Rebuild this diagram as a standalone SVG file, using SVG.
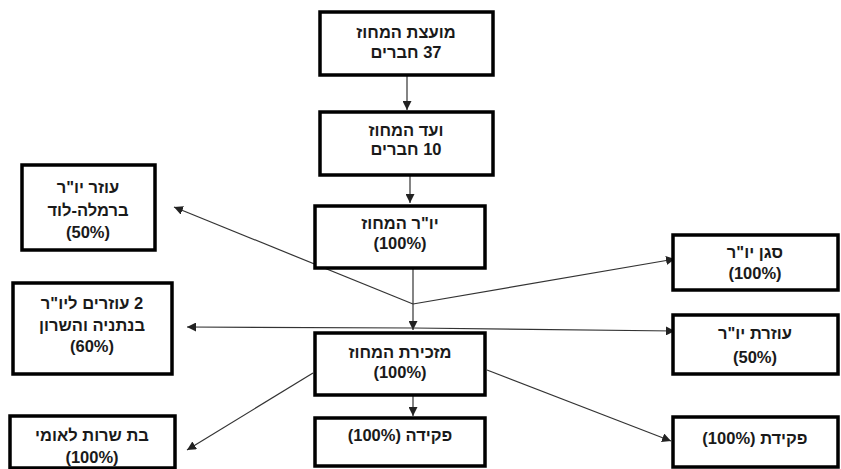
<svg xmlns="http://www.w3.org/2000/svg" width="841" height="469" viewBox="0 0 841 469">
<style>
.box{fill:#fff;stroke:#000;stroke-width:3.5}
.t{font-family:"Liberation Sans","DejaVu Sans",sans-serif;font-size:16.5px;font-weight:bold;fill:#1a1a1a;text-anchor:middle;direction:rtl}
.c{stroke:#333;stroke-width:1.2;fill:none;marker-end:url(#ah)}
</style>
<defs>
<marker id="ah" viewBox="0 0 10 10" refX="10" refY="5" markerWidth="9" markerHeight="9" markerUnits="userSpaceOnUse" orient="auto">
<path d="M0,0 L10,5 L0,10 z" fill="#222"/>
</marker>
</defs>
<rect width="841" height="469" fill="#fff"/>
<g id="connectors">
<line class="c" x1="407" y1="76" x2="407" y2="110"/>
<line class="c" x1="410" y1="176" x2="410" y2="203"/>
<line class="c" x1="413" y1="269" x2="413" y2="330"/>
<line class="c" x1="413" y1="304" x2="174" y2="207"/>
<line class="c" x1="413" y1="304" x2="675" y2="259"/>
<line class="c" x1="413" y1="328" x2="187" y2="327"/>
<line class="c" x1="413" y1="328" x2="675" y2="331"/>
<line class="c" x1="313" y1="373" x2="187" y2="450"/>
<line class="c" x1="487" y1="370" x2="671" y2="441"/>
<line class="c" x1="413" y1="396" x2="413" y2="416"/>
</g>
<g id="n-council">
<rect class="box" x="320" y="12" width="173" height="63"/>
<text class="t" x="406" y="38">מועצת המחוז</text>
<text class="t" x="406" y="58">37 חברים</text>
</g>
<g id="n-committee">
<rect class="box" x="320" y="112" width="173" height="63"/>
<text class="t" x="406" y="136">ועד המחוז</text>
<text class="t" x="406" y="155">10 חברים</text>
</g>
<g id="n-chair">
<rect class="box" x="315" y="206" width="170" height="62"/>
<text class="t" x="400" y="229">יו"ר המחוז</text>
<text class="t" x="400" y="249">(100%)</text>
</g>
<g id="n-secretariat">
<rect class="box" x="315" y="333" width="170" height="62"/>
<text class="t" x="400" y="358">מזכירת המחוז</text>
<text class="t" x="400" y="378">(100%)</text>
</g>
<g id="n-clerk-center">
<rect class="box" x="315" y="418" width="170" height="48"/>
<text class="t" x="400" y="441">פקידה (100%)</text>
</g>
<g id="n-ramla">
<rect class="box" x="22" y="165" width="133" height="85"/>
<text class="t" x="88" y="193">עוזר יו"ר</text>
<text class="t" x="88" y="216">ברמלה-לוד</text>
<text class="t" x="88" y="238">(50%)</text>
</g>
<g id="n-netanya">
<rect class="box" x="13" y="283" width="159" height="91"/>
<text class="t" x="92" y="309">2 עוזרים ליו"ר</text>
<text class="t" x="92" y="331">בנתניה והשרון</text>
<text class="t" x="92" y="352">(60%)</text>
</g>
<g id="n-national-service">
<rect class="box" x="10" y="416" width="165" height="52"/>
<text class="t" x="92" y="441">בת שרות לאומי</text>
<text class="t" x="92" y="463">(100%)</text>
</g>
<g id="n-deputy">
<rect class="box" x="673" y="235" width="165" height="55"/>
<text class="t" x="755" y="258">סגן יו"ר</text>
<text class="t" x="755" y="279">(100%)</text>
</g>
<g id="n-assistant">
<rect class="box" x="673" y="315" width="165" height="59"/>
<text class="t" x="755" y="339">עוזרת יו"ר</text>
<text class="t" x="755" y="363">(50%)</text>
</g>
<g id="n-clerk-right">
<rect class="box" x="673" y="417" width="165" height="50"/>
<text class="t" x="755" y="444">פקידת (100%)</text>
</g>
</svg>
